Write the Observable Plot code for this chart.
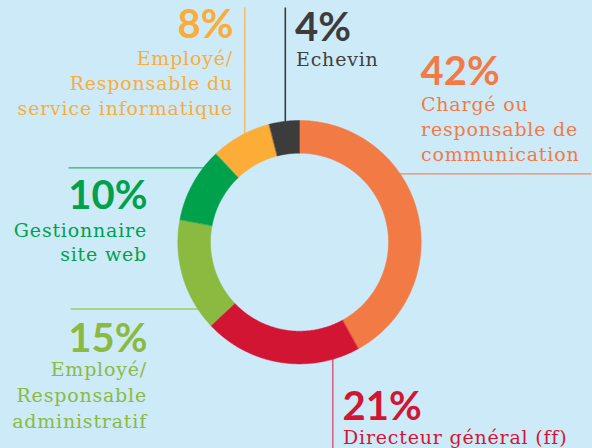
<!DOCTYPE html>
<html><head><meta charset="utf-8">
<script src="https://cdn.jsdelivr.net/npm/d3@7"></script>
<script src="https://cdn.jsdelivr.net/npm/@observablehq/plot@0.6"></script>
<style>html,body{margin:0;padding:0;background:#cdeaf9;overflow:hidden}</style>
</head><body><div id="chart"></div>
<script>
// ---- data ----
const categories = ["Chargé ou responsable de communication", "Directeur général (ff)", "Employé/Responsable administratif", "Gestionnaire site web", "Employé/Responsable du service informatique", "Echevin"];
const values = [42, 21, 15, 10, 8, 4];
const pctLabels = ["42%", "21%", "15%", "10%", "8%", "4%"];
const labelLines = [
  ["Chargé ou", "responsable de", "communication"],
  ["Directeur général (ff)"],
  ["Employé/", "Responsable", "administratif"],
  ["Gestionnaire", "site web"],
  ["Employé/", "Responsable du", "service informatique"],
  ["Echevin"]
];
const colors = ["#f27a45", "#d31534", "#8aba3f", "#00a14b", "#fbad38", "#3c3c3c"];
const leaderColors = ["#f08a5c", "#d9486c", "#9fcd5e", "#35b26e", "#f7b555", "#3c3c3c"];

// ---- layout (pixels) ----
const W = 592, H = 448, cx = 299, cy = 241.7, R = 121.7, r0 = 89;
const layout = [
  {anchor: "start", x: 420, lx: 420.5, pctY: 84.5, lineY: [110, 135, 160], leader: [399, 173.3, 591, 173.3]},
  {anchor: "start", x: 342, lx: 342.5, pctY: 419, lineY: [443.3], leader: [332.3, 358, 332.3, 448]},
  {anchor: "end", x: 147, lx: 146.5, pctY: 351, lineY: [375.5, 401, 427.3], leader: [70, 308.5, 198, 308.5]},
  {anchor: "end", x: 147, lx: 146.5, pctY: 208.5, lineY: [236, 260.7], leader: [68, 167.3, 204, 167.3]},
  {anchor: "end", x: 233, lx: 232.5, pctY: 37.3, lineY: [64.5, 89.5, 114.3], leader: [244.3, 7, 244.3, 134]},
  {anchor: "start", x: 294.5, lx: 295.5, pctY: 40.3, lineY: [65], leader: [284.8, 7, 284.8, 122]}
];

// ---- ring geometry from values ----
const total = d3.sum(values);
let acc = 0;
const ringPts = [];
values.forEach((v, i) => {
  const a0 = acc / total * 2 * Math.PI, a1 = (acc + v) / total * 2 * Math.PI;
  acc += v;
  const n = Math.max(2, Math.ceil((a1 - a0) / (Math.PI / 360)));
  for (let k = 0; k <= n; k++) {
    const a = a0 + (a1 - a0) * k / n;
    ringPts.push({cat: categories[i], color: colors[i], x: cx + R * Math.sin(a), y: cy - R * Math.cos(a)});
  }
  for (let k = n; k >= 0; k--) {
    const a = a0 + (a1 - a0) * k / n;
    ringPts.push({cat: categories[i], color: colors[i], x: cx + r0 * Math.sin(a), y: cy - r0 * Math.cos(a)});
  }
});

const leaders = layout.map((d, i) => ({x1: d.leader[0], y1: d.leader[1], x2: d.leader[2], y2: d.leader[3], color: leaderColors[i], w: i === 5 ? 1.6 : 1.3}));

const pctRows = layout.map((d, i) => ({text: pctLabels[i], x: d.x, y: d.pctY, anchor: d.anchor, color: colors[i]}));
const lineRows = layout.flatMap((d, i) => labelLines[i].map((t, j) => ({text: t, x: d.lx, y: d.lineY[j], anchor: d.anchor, color: i === 5 ? "#404040" : colors[i]})));

const pctFont = {fontFamily: "Lato", fontWeight: 700, fontSize: 40, lineAnchor: "bottom"};
const lblFont = {fontFamily: "DejaVu Serif", fontWeight: 400, fontSize: 19, lineAnchor: "bottom"};

const chart = Plot.plot({
  width: W, height: H, margin: 0,
  style: {background: "#cdeaf9"},
  x: {domain: [0, W], range: [0, W], axis: null},
  y: {domain: [0, H], range: [0, H], axis: null},
  color: {type: "identity"},
  marks: [
    Plot.link(leaders, {x1: "x1", y1: "y1", x2: "x2", y2: "y2", stroke: "color", strokeWidth: "w"}),
    Plot.line(ringPts, {x: "x", y: "y", z: "cat", fill: "color", stroke: "color", strokeWidth: 0.5, curve: "linear-closed"}),
    Plot.text(pctRows.filter(d => d.anchor === "start"), {x: "x", y: "y", text: "text", fill: "color", textAnchor: "start", ...pctFont}),
    Plot.text(pctRows.filter(d => d.anchor === "end"), {x: "x", y: "y", text: "text", fill: "color", textAnchor: "end", ...pctFont}),
    Plot.text(lineRows.filter(d => d.anchor === "start"), {x: "x", y: "y", text: "text", fill: "color", textAnchor: "start", ...lblFont}),
    Plot.text(lineRows.filter(d => d.anchor === "end"), {x: "x", y: "y", text: "text", fill: "color", textAnchor: "end", ...lblFont})
  ]
});
chart.querySelectorAll('g[font-family="DejaVu Serif"]').forEach(g => g.style.letterSpacing = "0.8px");
document.getElementById("chart").appendChild(chart);
</script>
</body></html>
